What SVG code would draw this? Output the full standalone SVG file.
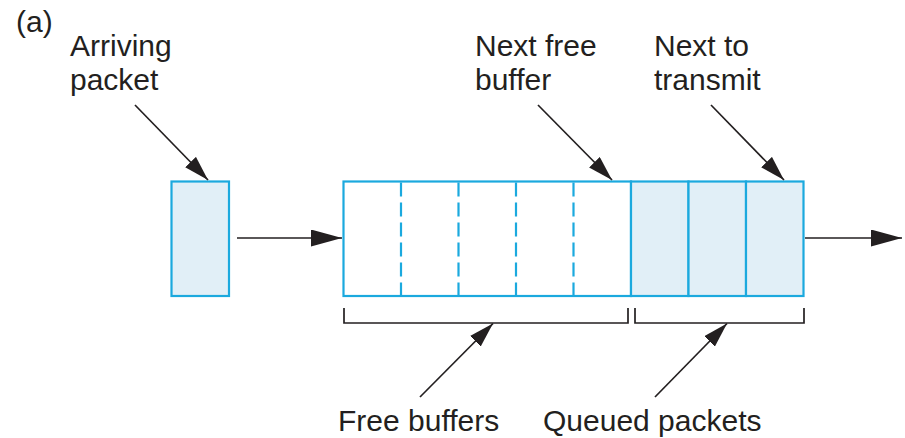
<svg xmlns="http://www.w3.org/2000/svg" width="905" height="438" viewBox="0 0 905 438">
  <style>
    .lbl { font-family: "Liberation Sans", Arial, sans-serif; font-size: 30px; fill: #231f20; }
    .cell { stroke: #1ba9de; stroke-width: 2.2; }
    .full { fill: #e1eff7; }
    .empty { fill: #ffffff; }
    .dash { stroke: #1ba9de; stroke-width: 2.2; stroke-dasharray: 14 6; fill: none; }
    .conn { stroke: #231f20; stroke-width: 1.7; fill: none; }
    .brace { stroke: #231f20; stroke-width: 1.7; fill: none; }
  </style>
  <defs>
    <marker id="head" viewBox="0 0 31 17" refX="31" refY="8.5" markerWidth="31" markerHeight="17" markerUnits="userSpaceOnUse" orient="auto">
      <path d="M0,0 L31,8.5 L0,17 Z" fill="#231f20"/>
    </marker>
    <marker id="headSm" viewBox="0 0 25 15" refX="25" refY="7.5" markerWidth="25" markerHeight="15" markerUnits="userSpaceOnUse" orient="auto">
      <path d="M0,0 L25,7.5 L0,15 Z" fill="#231f20"/>
    </marker>
  </defs>

  <text class="lbl" x="16" y="32">(a)</text>

  <!-- incoming packet -->
  <g id="arriving-packet">
    <rect class="cell full" x="171.5" y="181.5" width="57.5" height="114.5"/>
  </g>

  <!-- buffer queue -->
  <g id="queue">
    <rect class="cell empty" x="343.5" y="181.5" width="287.5" height="114.5"/>
    <line class="dash" x1="401" y1="182.5" x2="401" y2="295"/>
    <line class="dash" x1="458.5" y1="182.5" x2="458.5" y2="295"/>
    <line class="dash" x1="516" y1="182.5" x2="516" y2="295"/>
    <line class="dash" x1="573.5" y1="182.5" x2="573.5" y2="295"/>
    <rect class="cell full" x="631" y="181.5" width="57.5" height="114.5"/>
    <rect class="cell full" x="688.5" y="181.5" width="57.5" height="114.5"/>
    <rect class="cell full" x="746" y="181.5" width="57.5" height="114.5"/>
  </g>

  <!-- braces under the queue -->
  <g id="free-brace">
    <path class="brace" d="M344,308 V323 H628 V308"/>
  </g>
  <g id="queued-brace">
    <path class="brace" d="M635,308 V323 H804 V308"/>
  </g>

  <!-- labels -->
  <g id="label-arriving">
    <text class="lbl" x="70" y="56">Arriving</text>
    <text class="lbl" x="70" y="90">packet</text>
  </g>
  <g id="label-next-free">
    <text class="lbl" x="475" y="56">Next free</text>
    <text class="lbl" x="475" y="90">buffer</text>
  </g>
  <g id="label-next-tx">
    <text class="lbl" x="654" y="56">Next to</text>
    <text class="lbl" x="654" y="90">transmit</text>
  </g>
  <g id="label-free">
    <text class="lbl" x="338" y="431">Free buffers</text>
  </g>
  <g id="label-queued">
    <text class="lbl" x="543" y="431">Queued packets</text>
  </g>

  <!-- connectors -->
  <g id="connectors">
    <line class="conn" x1="237" y1="238" x2="342" y2="238" marker-end="url(#head)"/>
    <line class="conn" x1="805" y1="238" x2="902" y2="238" marker-end="url(#head)"/>
    <line class="conn" x1="135" y1="105" x2="208" y2="180" marker-end="url(#headSm)"/>
    <line class="conn" x1="538" y1="105" x2="612" y2="180" marker-end="url(#headSm)"/>
    <line class="conn" x1="711" y1="105" x2="784" y2="180" marker-end="url(#headSm)"/>
    <line class="conn" x1="420" y1="397" x2="493" y2="323.5" marker-end="url(#headSm)"/>
    <line class="conn" x1="655" y1="397" x2="727" y2="323.5" marker-end="url(#headSm)"/>
  </g>
</svg>
